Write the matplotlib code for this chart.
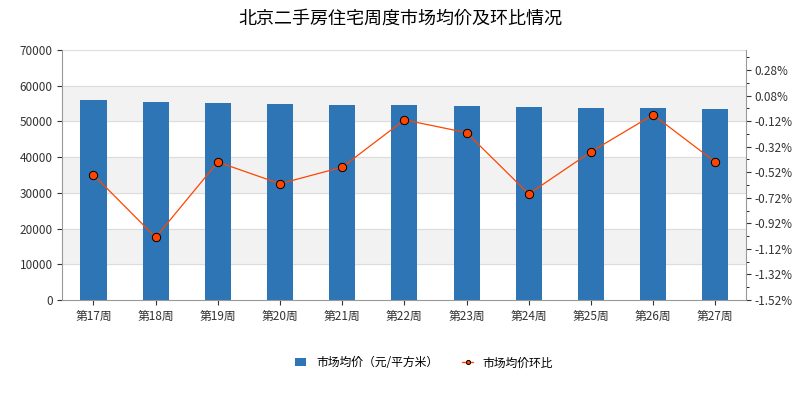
import matplotlib.pyplot as plt
import numpy as np

plt.rcParams['font.family'] = ['Noto Sans CJK SC', 'Noto Sans CJK JP', 'DejaVu Sans']

weeks = ['第17周', '第18周', '第19周', '第20周', '第21周', '第22周',
         '第23周', '第24周', '第25周', '第26周', '第27周']
prices = [56000, 55500, 55200, 55000, 54700, 54600, 54400, 54100, 53900, 53800, 53500]
changes = [-0.54, -1.03, -0.44, -0.61, -0.48, -0.11, -0.21, -0.69, -0.36, -0.07, -0.44]

fig = plt.figure(figsize=(8, 4), dpi=100)
ax = fig.add_axes([0.078, 0.25, 0.855, 0.625])
x = np.arange(len(weeks))

for lo in (10000, 30000, 50000):
    ax.axhspan(lo, lo + 10000, color='#f2f2f2', zorder=0)
for y in range(10000, 70001, 10000):
    ax.axhline(y, color='#dddddd', lw=0.8, zorder=0)

bars = ax.bar(x, prices, width=0.42, color='#2e75b6', zorder=2)
ax.set_ylim(0, 70000)
ax.set_xlim(-0.5, len(weeks) - 0.5)
ax.set_xticks(x)
ax.set_xticklabels(weeks, fontsize=8.5)
ax.set_yticks(range(0, 70001, 10000))
ax.tick_params(labelsize=8.5, colors='#333333')
for s in ('top', 'right'):
    ax.spines[s].set_visible(False)
ax.spines['left'].set_color('#999999')
ax.spines['bottom'].set_color('#999999')

ax2 = ax.twinx()
line, = ax2.plot(x, changes, color='#ff4500', lw=0.9, marker='o', markersize=6,
                 markerfacecolor='#ff4500', markeredgecolor='black', markeredgewidth=0.7,
                 zorder=3)
ax2.set_ylim(-1.52, 0.437)
rt = np.arange(-1.52, 0.29, 0.2)
ax2.set_yticks(rt)
ax2.set_yticklabels([f'{v:.2f}%' for v in rt], fontsize=8.5)
ax2.set_yticks(np.arange(-1.42, 0.44, 0.2), minor=True)
ax2.tick_params(colors='#333333', pad=2)
for s in ('top', 'left', 'bottom'):
    ax2.spines[s].set_visible(False)
ax2.spines['right'].set_color('#999999')

fig.suptitle('北京二手房住宅周度市场均价及环比情况', fontsize=13, y=0.975)
fig.legend([bars, line], ['市场均价（元/平方米）', '市场均价环比'],
           loc='lower center', bbox_to_anchor=(0.53, 0.05), ncol=2,
           frameon=False, fontsize=8.5, handlelength=1, markerscale=0.5)

fig.savefig('out.png')
